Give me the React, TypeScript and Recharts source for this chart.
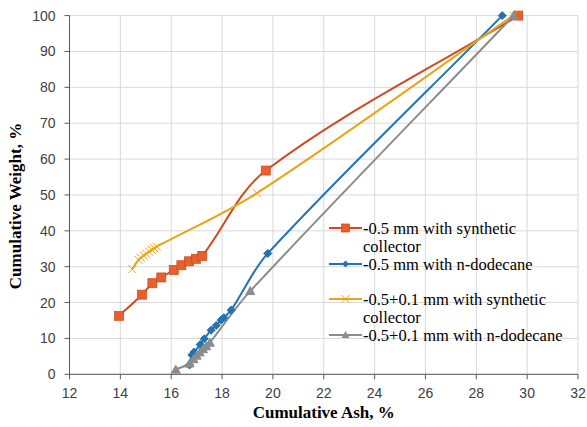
import { LineChart, Line, XAxis, YAxis, CartesianGrid, Legend } from 'recharts';

// -0.5 mm with synthetic collector
const ashSyn = [13.95, 14.85, 15.26, 15.61, 16.1, 16.4, 16.7, 16.97, 17.22, 19.72, 29.65];
const wtSyn = [16.3, 22.2, 25.4, 27.0, 29.1, 30.4, 31.5, 32.2, 33.0, 56.8, 100];

// -0.5 mm with n-dodecane
const ashDod = [16.72, 16.81, 16.9, 17.14, 17.3, 17.57, 17.77, 17.96, 18.07, 18.36, 19.8, 29.02];
const wtDod = [2.6, 5.4, 6.2, 8.3, 9.9, 12.3, 13.6, 15.1, 15.8, 17.9, 33.7, 100];

// -0.5+0.1 mm with synthetic collector
const ashFineSyn = [14.47, 14.71, 14.81, 14.92, 15.02, 15.13, 15.24, 15.34, 15.44, 19.37, 29.45];
const wtFineSyn = [29.3, 31.9, 32.5, 33.1, 33.6, 34.2, 34.7, 35.1, 35.6, 50.5, 100];

// -0.5+0.1 mm with n-dodecane
const ashFineDod = [16.18, 16.72, 16.88, 17.0, 17.12, 17.25, 17.38, 17.52, 19.11, 29.47];
const wtFineDod = [1.3, 3.0, 4.2, 5.2, 6.1, 7.0, 7.8, 8.8, 23.2, 100];

const xTicks = [12, 14, 16, 18, 20, 22, 24, 26, 28, 30, 32];
const yTicks = [0, 10, 20, 30, 40, 50, 60, 70, 80, 90, 100];

const toPoints = (xs: number[], ys: number[]) => xs.map((x, i) => ({ x, y: ys[i] }));

// excel-like smoothing: tangent along neighbours, handle length scaled by segment length
const excelSmooth = (context: any) => {
    let pts: number[][] = [];
    const tangent = (i: number) => {
        const a = pts[Math.max(i - 1, 0)];
        const b = pts[Math.min(i + 1, pts.length - 1)];
        const dx = b[0] - a[0], dy = b[1] - a[1];
        const len = Math.hypot(dx, dy) || 1;
        return [dx / len, dy / len];
    };
    return {
        areaStart() {},
        areaEnd() {},
        lineStart() { pts = []; },
        point(x: number, y: number) { pts.push([+x, +y]); },
        lineEnd() {
            const n = pts.length;
            if (!n) return;
            context.moveTo(pts[0][0], pts[0][1]);
            for (let i = 0; i < n - 1; i++) {
                const p1 = pts[i], p2 = pts[i + 1];
                const L = Math.hypot(p2[0] - p1[0], p2[1] - p1[1]) / 3;
                const t1 = tangent(i), t2 = tangent(i + 1);
                context.bezierCurveTo(
                    p1[0] + t1[0] * L, p1[1] + t1[1] * L,
                    p2[0] - t2[0] * L, p2[1] - t2[1] * L,
                    p2[0], p2[1]
                );
            }
        },
    };
};

const RED = '#CF4A1E', RED_FILL = '#E8602C';
const BLUE = '#2272B4';
const YELLOW = '#EAA416';
const GRAY = '#8C8C8C';

const Square = ({ cx, cy, index }: any) => (
    <rect key={index} x={cx - 4.5} y={cy - 4.5} width={9} height={9} fill={RED_FILL} stroke={RED} strokeWidth={0.75} />
);
const Diamond = ({ cx, cy, index }: any) => (
    <path key={index} d={`M${cx},${cy - 4} L${cx + 4},${cy} L${cx},${cy + 4} L${cx - 4},${cy} Z`} fill={BLUE} stroke={BLUE} />
);
const Cross = ({ cx, cy, index }: any) => (
    <path key={index} d={`M${cx - 4},${cy - 4} L${cx + 4},${cy + 4} M${cx - 4},${cy + 4} L${cx + 4},${cy - 4}`} stroke={YELLOW} strokeWidth={1} fill="none" />
);
const Triangle = ({ cx, cy, index }: any) => (
    <path key={index} d={`M${cx},${cy - 4.5} L${cx + 4.5},${cy + 3.5} L${cx - 4.5},${cy + 3.5} Z`} fill={GRAY} stroke={GRAY} />
);

// centre y of each text line, relative to the legend's top
const legendItems = [
    { lines: [['-0.5 mm with synthetic', 9], ['collector', 27]], color: RED, marker: 'square' },
    { lines: [['-0.5 mm with n-dodecane', 45]], color: BLUE, marker: 'diamond' },
    { lines: [['-0.5+0.1 mm with synthetic', 80], ['collector', 98]], color: YELLOW, marker: 'cross' },
    { lines: [['-0.5+0.1 mm with n-dodecane', 116]], color: GRAY, marker: 'triangle' },
];

const LegendMarker = ({ type, color, y }: { type: string, color: string, y: number }) => (
    <svg width={34} height={12} style={{ position: 'absolute', left: 0, top: y - 6 }}>
        <line x1={0} y1={6} x2={33} y2={6} stroke={color} strokeWidth={2} />
        {type === 'square' && <rect x={12.5} y={2} width={8} height={8} fill={RED_FILL} stroke={RED} strokeWidth={0.75} />}
        {type === 'diamond' && <path d="M16.5,2.5 L20,6 L16.5,9.5 L13,6 Z" fill={BLUE} />}
        {type === 'cross' && <path d="M12.5,2 L20.5,10 M12.5,10 L20.5,2" stroke={YELLOW} strokeWidth={1} />}
        {type === 'triangle' && <path d="M16.5,2 L20.5,9 L12.5,9 Z" fill={GRAY} />}
    </svg>
);

const ChartLegend = () => (
    <div style={{ position: 'relative', width: 250, height: 130, fontFamily: '"Liberation Serif", "Times New Roman", serif', fontSize: 16.5, color: '#000' }}>
        {legendItems.map((item) => (
            <div key={item.lines[0][0] as string}>
                <LegendMarker type={item.marker} color={item.color} y={item.lines[0][1] as number} />
                {item.lines.map(([text, cy]) => (
                    <div key={text as string} style={{ position: 'absolute', left: 34, top: (cy as number) - 7.5, lineHeight: '15px', whiteSpace: 'nowrap' }}>{text}</div>
                ))}
            </div>
        ))}
    </div>
);

const tickStyle = { fontSize: 14, fill: '#404040', fontFamily: '"Liberation Sans", Arial, sans-serif' };
const titleStyle = { fontSize: 17, fontWeight: 'bold' as const, fontFamily: '"Liberation Serif", "Times New Roman", serif', fill: '#000' };

export default function App() {
    return (
        <div style={{ width: 587, height: 427, position: 'relative', background: '#fff' }}>
            <style>{'body{margin:0}'}</style>
            <LineChart width={587} height={427} margin={{ top: 15.6, right: 9, bottom: 0, left: 0 }}>
                <CartesianGrid stroke="#D9D9D9" strokeWidth={1} />
                <XAxis
                    type="number"
                    dataKey="x"
                    domain={[12, 32]}
                    ticks={xTicks}
                    allowDataOverflow
                    height={52.7}
                    tick={tickStyle}
                    tickSize={5}
                    tickMargin={9}
                    stroke="#595959"
                    label={({ viewBox }: any) => (
                        <text x={viewBox.x + viewBox.width / 2} y={418} textAnchor="middle" {...titleStyle}>Cumulative Ash, %</text>
                    )}
                />
                <XAxis xAxisId="top" orientation="top" type="number" domain={[12, 32]} height={0} tick={false} tickLine={false} stroke="#595959" />
                <YAxis
                    type="number"
                    domain={[0, 100]}
                    ticks={yTicks}
                    width={69.5}
                    tick={tickStyle}
                    tickSize={5}
                    tickMargin={9}
                    stroke="#595959"
                    label={() => (
                        <text x={21} y={206} transform="rotate(-90 21 206)" textAnchor="middle" {...titleStyle}>Cumulative Weight, %</text>
                    )}
                />
                <YAxis yAxisId="right" orientation="right" domain={[0, 100]} width={0} tick={false} tickLine={false} stroke="#808080" />
                <Legend
                    layout="horizontal"
                    verticalAlign="middle"
                    align="center"
                    wrapperStyle={{ left: 329, top: 219, width: 250, height: 130 }}
                    content={() => <ChartLegend />}
                />
                <Line data={toPoints(ashSyn, wtSyn)} dataKey="y" type={excelSmooth as any} stroke={RED} strokeWidth={2} dot={Square} isAnimationActive={false} />
                <Line data={toPoints(ashDod, wtDod)} dataKey="y" type={excelSmooth as any} stroke={BLUE} strokeWidth={2} dot={Diamond} isAnimationActive={false} />
                <Line data={toPoints(ashFineSyn, wtFineSyn)} dataKey="y" type={excelSmooth as any} stroke={YELLOW} strokeWidth={2} dot={Cross} isAnimationActive={false} />
                <Line data={toPoints(ashFineDod, wtFineDod)} dataKey="y" type={excelSmooth as any} stroke={GRAY} strokeWidth={2} dot={Triangle} isAnimationActive={false} />
            </LineChart>
        </div>
    );
}
